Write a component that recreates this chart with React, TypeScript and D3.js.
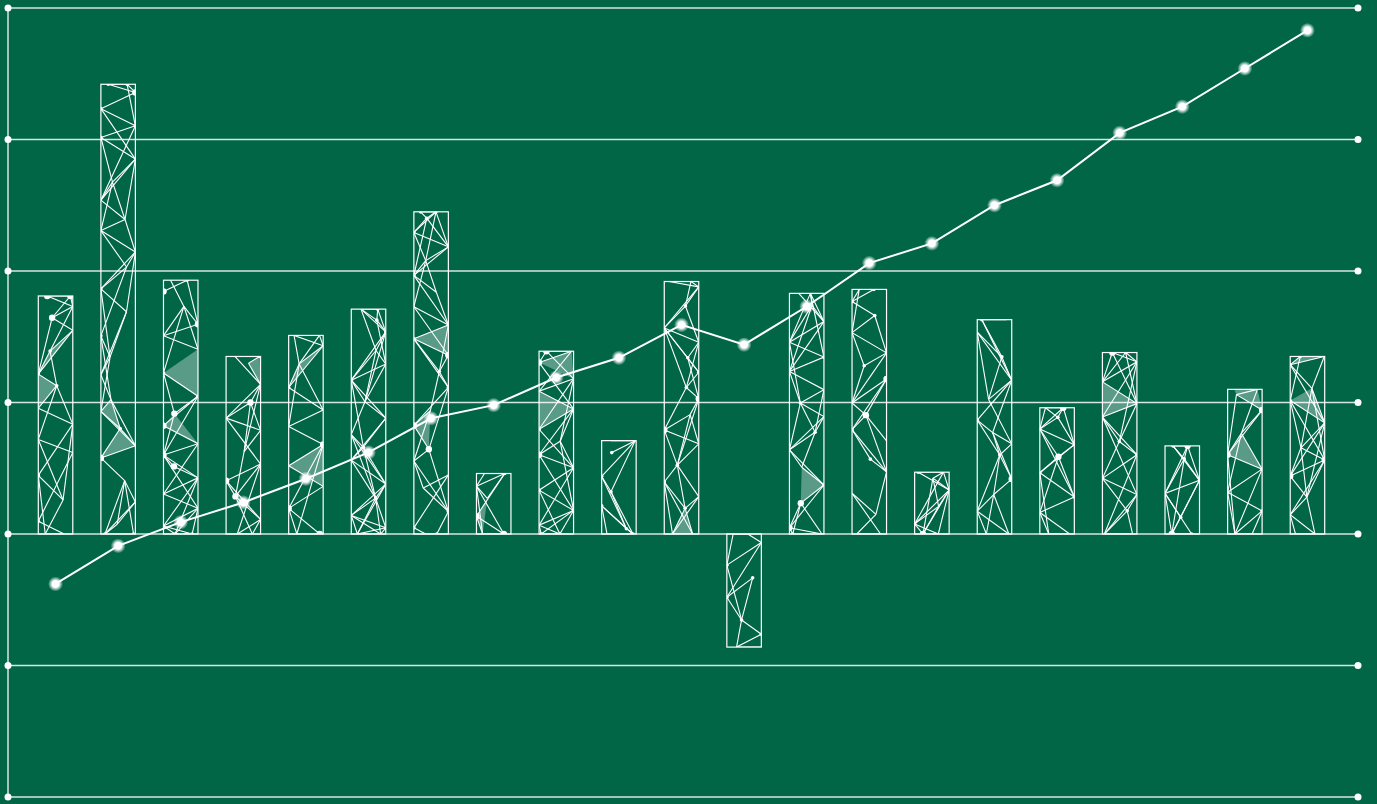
import React from "react";
import * as d3 from "d3";

const categories = d3.range(21).map((i) => `C${i + 1}`);
const barValues = [1.81, 3.42, 1.93, 1.35, 1.51, 1.71, 2.45, 0.46, 1.39, 0.71, 1.92, -0.86, 1.83, 1.86, 0.47, 1.63, 0.96, 1.38, 0.67, 1.1, 1.35];
const lineValues = [-0.38, -0.09, 0.09, 0.24, 0.42, 0.62, 0.88, 0.98, 1.19, 1.34, 1.59, 1.44, 1.73, 2.06, 2.21, 2.5, 2.69, 3.05, 3.25, 3.54, 3.83];
const yTicks = [-2, -1, 0, 1, 2, 3, 4];

const W = 1377;
const H = 804;
const BG = "#006645";

function mulberry32(a: number) {
  return function () {
    a |= 0;
    a = (a + 0x6d2b79f5) | 0;
    let t = Math.imul(a ^ (a >>> 15), 1 | a);
    t = (t + Math.imul(t ^ (t >>> 7), 61 | t)) ^ t;
    return ((t ^ (t >>> 14)) >>> 0) / 4294967296;
  };
}

type Node = { x: number; y: number };

function makeNetwork(x0: number, y0: number, w: number, h: number, seed: number) {
  const rnd = mulberry32(seed);
  const nodes: Node[] = [];
  nodes.push({ x: x0 + w * (0.1 + rnd() * 0.2), y: y0 });
  nodes.push({ x: x0 + w * (0.6 + rnd() * 0.4), y: y0 });
  let y = y0 + 5 + rnd() * 8;
  let lastCol = -1;
  while (y < y0 + h - 5) {
    let c = Math.floor(rnd() * 3);
    if (c === lastCol) c = (c + 1 + Math.floor(rnd() * 2)) % 3;
    lastCol = c;
    const cx = c === 0 ? x0 : c === 2 ? x0 + w : x0 + w * (0.25 + rnd() * 0.5);
    nodes.push({ x: cx, y });
    y += 11 + rnd() * 14;
  }
  nodes.push({ x: x0 + w * (0.05 + rnd() * 0.3), y: y0 + h });
  nodes.push({ x: x0 + w * (0.6 + rnd() * 0.4), y: y0 + h });
  const edges: [Node, Node][] = [];
  const tris: Node[][] = [];
  for (let i = 0; i < nodes.length; i++) {
    for (let k = 1; k <= 4; k++) {
      const j = i + k;
      if (j >= nodes.length) break;
      const dx = Math.abs(nodes[i].x - nodes[j].x);
      const p = k === 1 ? 0.9 : k === 2 ? 0.8 : k === 3 ? 0.6 : 0.25;
      if (rnd() < p && (dx > 5 || k === 1)) edges.push([nodes[i], nodes[j]]);
    }
    if (i + 2 < nodes.length && rnd() < 0.08) tris.push([nodes[i], nodes[i + 1], nodes[i + 2]]);
  }
  const dots = nodes
    .filter(() => rnd() < 0.5)
    .map((n) => ({ ...n, r: rnd() < 0.25 ? 3.2 : 1.8 }));
  return { edges, tris, dots };
}

export default function App() {
  const y = d3.scaleLinear().domain([-2, 4]).range([797, 8]);
  const x = d3
    .scaleBand<string>()
    .domain(categories)
    .range([7, 1356])
    .paddingInner(0.449)
    .paddingOuter(0.5);
  const bw = x.bandwidth();
  const cx = (c: string) => (x(c) as number) + bw / 2;

  const line = d3
    .line<number>()
    .x((_, i) => cx(categories[i]))
    .y((d) => y(d));

  const xLeft = 8;
  const xRight = 1358;

  return (
    <svg
      width={W}
      height={H}
      style={{ position: "absolute", left: 0, top: 0, display: "block", background: BG }}
    >
      <defs>
        <radialGradient id="glow">
          <stop offset="0%" stopColor="#ffffff" stopOpacity={1} />
          <stop offset="45%" stopColor="#ffffff" stopOpacity={1} />
          <stop offset="100%" stopColor="#ffffff" stopOpacity={0} />
        </radialGradient>
        {categories.map((c, i) => {
          const v = barValues[i];
          const top = y(Math.max(0, v));
          const h = Math.abs(y(v) - y(0));
          return (
            <clipPath id={`clip${i}`} key={c}>
              <rect x={x(c)} y={top} width={bw} height={h} />
            </clipPath>
          );
        })}
      </defs>
      <rect x={0} y={0} width={W} height={H} fill={BG} />

      {/* grid */}
      <g>
        <line x1={xLeft} x2={xLeft} y1={y(4)} y2={y(-2)} stroke="#d8e6df" strokeWidth={1.5} />
        {yTicks.map((t) => (
          <g key={t}>
            <line x1={xLeft} x2={xRight} y1={y(t)} y2={y(t)} stroke="#d8e6df" strokeWidth={1.3} />
            <circle cx={xLeft} cy={y(t)} r={3.5} fill="#ffffff" />
            <circle cx={xRight} cy={y(t)} r={3.5} fill="#ffffff" />
          </g>
        ))}
      </g>

      {/* bars */}
      <g>
        {categories.map((c, i) => {
          const v = barValues[i];
          const top = y(Math.max(0, v));
          const h = Math.abs(y(v) - y(0));
          const bx = x(c) as number;
          const net = makeNetwork(bx, top, bw, h, 1000 + i * 37);
          return (
            <g key={c}>
              <g clipPath={`url(#clip${i})`}>
                {net.tris.map((t, k) => (
                  <polygon
                    key={k}
                    points={t.map((p) => `${p.x},${p.y}`).join(" ")}
                    fill="#ffffff"
                    fillOpacity={0.35}
                  />
                ))}
                {net.edges.map(([a, b], k) => (
                  <line key={k} x1={a.x} y1={a.y} x2={b.x} y2={b.y} stroke="#ffffff" strokeWidth={1.1} />
                ))}
                {net.dots.map((d, k) => (
                  <circle key={k} cx={d.x} cy={d.y} r={d.r} fill="#ffffff" />
                ))}
              </g>
              <rect x={bx} y={top} width={bw} height={h} fill="none" stroke="#ffffff" strokeWidth={1.2} />
            </g>
          );
        })}
      </g>

      {/* line */}
      <path d={line(lineValues) || ""} fill="none" stroke="#ffffff" strokeWidth={2} />
      {lineValues.map((v, i) => (
        <circle key={i} cx={cx(categories[i])} cy={y(v)} r={7.5} fill="url(#glow)" />
      ))}
    </svg>
  );
}
